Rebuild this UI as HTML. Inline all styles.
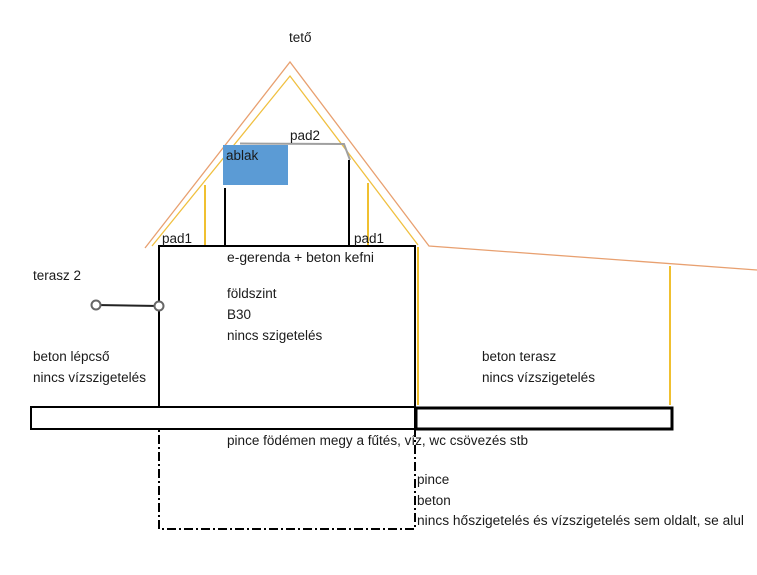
<!DOCTYPE html>
<html><head><meta charset="utf-8"><style>
html,body{margin:0;padding:0;background:#fff;}
svg{display:block}
text{font-family:"Liberation Sans",sans-serif;font-size:13.5px;fill:#1a1a1a}
</style></head><body>
<svg width="757" height="575" viewBox="0 0 757 575" xmlns="http://www.w3.org/2000/svg">
<polyline points="145,248 290,62 429,246 757,270" fill="none" stroke="#e8a070" stroke-width="1.3"/>
<polyline points="152,246 290,76 418,245" fill="none" stroke="#f0c040" stroke-width="1.3"/>
<g stroke="#f0c030" stroke-width="2">
<line x1="205" y1="185" x2="205" y2="246"/>
<line x1="368" y1="183" x2="368" y2="246"/>
<line x1="418" y1="247" x2="418" y2="405"/>
<line x1="670" y1="266" x2="670" y2="405"/>
</g>
<rect x="223" y="145" width="65" height="40" fill="#5b9bd5"/>
<polyline points="240,143.5 344,144 350,160" fill="none" stroke="#a0a0a0" stroke-width="2"/>
<g stroke="#000" stroke-width="2">
<line x1="225" y1="188" x2="225" y2="246"/>
<line x1="349" y1="160" x2="349" y2="246"/>
</g>
<rect x="159" y="246" width="256" height="161" fill="none" stroke="#000" stroke-width="2"/>
<rect x="31" y="407" width="384" height="22" fill="none" stroke="#000" stroke-width="2"/>
<rect x="416" y="408" width="256" height="21" fill="none" stroke="#000" stroke-width="3"/>
<rect x="159" y="429" width="256" height="100" fill="none" stroke="#000" stroke-width="2" stroke-dasharray="9,3,2,3"/>
<line x1="96" y1="305" x2="159" y2="306" stroke="#222" stroke-width="2"/>
<circle cx="96" cy="305" r="4.5" fill="#fff" stroke="#666" stroke-width="2"/>
<circle cx="159" cy="306" r="4.5" fill="#fff" stroke="#666" stroke-width="2"/>
<text x="289" y="42">tető</text>
<text x="290" y="140">pad2</text>
<text x="226" y="160">ablak</text>
<text x="162" y="243">pad1</text>
<text x="354" y="243">pad1</text>
<text x="227" y="262" textLength="147" lengthAdjust="spacingAndGlyphs">e-gerenda + beton kefni</text>
<text x="227" y="298">földszint</text>
<text x="227" y="319">B30</text>
<text x="227" y="340">nincs szigetelés</text>
<text x="33" y="280">terasz 2</text>
<text x="33" y="361">beton lépcső</text>
<text x="33" y="382" textLength="113" lengthAdjust="spacingAndGlyphs">nincs vízszigetelés</text>
<text x="482" y="361">beton terasz</text>
<text x="482" y="382" textLength="113" lengthAdjust="spacingAndGlyphs">nincs vízszigetelés</text>
<text x="227" y="445" textLength="301" lengthAdjust="spacingAndGlyphs">pince födémen megy a fűtés, víz, wc csövezés stb</text>
<text x="417" y="484">pince</text>
<text x="417" y="505">beton</text>
<text x="417" y="525" textLength="327" lengthAdjust="spacingAndGlyphs">nincs hőszigetelés és vízszigetelés sem oldalt, se alul</text>
</svg>
</body></html>
